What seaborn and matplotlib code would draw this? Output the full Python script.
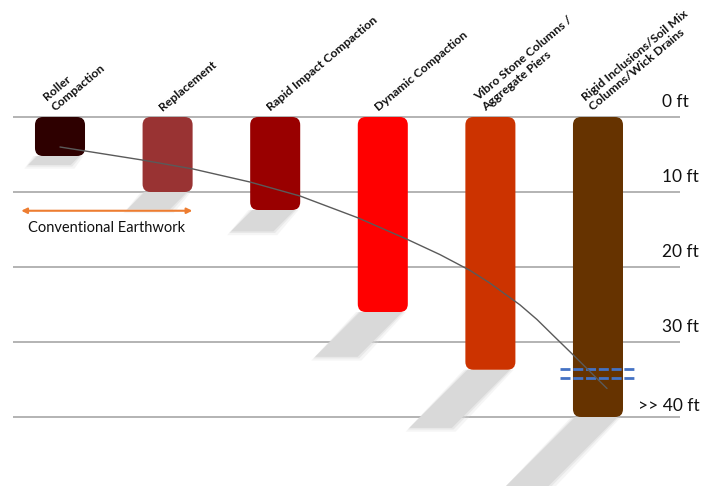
import matplotlib
matplotlib.use("Agg")
import matplotlib.pyplot as plt
import seaborn as sns
import pandas as pd
from matplotlib.patches import FancyBboxPatch, Polygon

# ---------------- data ----------------
methods = ["Roller\nCompaction", "Replacement", "Rapid Impact Compaction",
           "Dynamic Compaction", "Vibro Stone Columns /\nAggregate Piers",
           "Rigid Inclusions/Soil Mix\nColumns/Wick Drains"]
depths = [5.2, 10.0, 12.4, 26.0, 33.7, 40.0]
colors = ["#2E0000", "#993333", "#990000", "#FF0000", "#CC3300", "#663300"]

depth_ticks = [0, 10, 20, 30, 40]
depth_labels = ["0 ft", "10 ft", "20 ft", "30 ft", ">> 40 ft"]

trend_x = [0.0, 0.762, 1.236, 1.766, 2.230, 2.770, 3.225, 3.532, 3.810,
           3.996, 4.275, 4.433, 4.582, 4.768, 4.926, 5.084]
trend_y = [4.0, 5.73, 6.93, 8.67, 10.53, 13.45, 16.3, 18.35, 20.45,
           22.15, 25.05, 27.0, 29.1, 31.7, 33.95, 36.2]

earthwork_x = [-0.36, 1.23]
earthwork_y = 12.5
earthwork_label = "Conventional Earthwork"

limit_x = [4.647, 5.344]
limit_y = [33.6, 34.8]

# ---------------- figure ----------------
sns.set_theme(style="white")
plt.rcParams["font.family"] = ["Lato", "DejaVu Sans"]

W, H = 703, 486
fig = plt.figure(figsize=(W / 100, H / 100), dpi=100)
ax = fig.add_axes([0, 0, 1, 1])

xmin, xmax = -0.5576, 5.976
ymin, ymax = -15.6, 49.2
px_per_x = W / (xmax - xmin)
px_per_ft = H / (ymax - ymin)

df = pd.DataFrame({"method": methods, "depth": depths})
sns.barplot(data=df, x="method", y="depth", hue="method", order=methods,
            hue_order=methods, palette=colors, legend=False, width=0.465,
            saturation=1, ax=ax)

ax.set_xlim(xmin, xmax)
ax.set_ylim(ymax, ymin)
ax.axis("off")

# grid lines
ax.hlines(depth_ticks, -0.437, 5.762, color="#AEAEAE", lw=1.3, zorder=1)

# replace bars with rounded bars + soft shadows
r_px = 8
for p in list(ax.patches):
    x, y, w, h = p.get_x(), p.get_y(), p.get_width(), p.get_height()
    fc = p.get_facecolor()
    p.remove()
    top, bot = min(y, y + h), max(y, y + h)
    hs = 0.23 * bot
    s = hs * px_per_ft / px_per_x
    for grow, alpha in [(0.035, 0.25), (0.015, 0.45), (0.0, 1.0)]:
        gy = grow * px_per_x / px_per_ft
        shadow = Polygon([(x + 0.02 - grow, bot), (x + w - 0.05 + grow, bot),
                          (x + w - 0.05 + grow - s, bot + hs + gy),
                          (x + 0.02 - grow - s, bot + hs + gy)],
                         closed=True, fc="#D9D9D9", ec="none", alpha=alpha, zorder=2)
        ax.add_patch(shadow)
    rs = r_px / px_per_x
    asp = (r_px / px_per_ft) / rs
    bar = FancyBboxPatch((x, top), w, bot - top,
                         boxstyle=f"round,pad=0,rounding_size={rs}",
                         mutation_aspect=asp, fc=fc, ec="none", zorder=3)
    ax.add_patch(bar)

# trend curve
ax.plot(trend_x, trend_y, color="#5A5A5A", lw=1.0, zorder=5,
        solid_joinstyle="round")

# blue dashed limit lines
for yy in limit_y:
    ax.plot(limit_x, [yy, yy], color="#4472C4", lw=2.0, dashes=(3.6, 1.0),
            zorder=4, dash_capstyle="butt")

# conventional earthwork arrow
ax.annotate("", xy=(earthwork_x[0], earthwork_y), xytext=(earthwork_x[1], earthwork_y),
            arrowprops=dict(arrowstyle="<|-|>", color="#ED7D31", lw=1.5,
                            mutation_scale=8, shrinkA=0, shrinkB=0), zorder=5)
ax.text(sum(earthwork_x) / 2, earthwork_y + 2.3, earthwork_label,
        ha="center", va="center", fontsize=10.5, color="#111111")

# depth labels
for t, lab in zip(depth_ticks, depth_labels):
    if lab.startswith(">>"):
        ax.text(5.945, t - 1.5, lab, ha="right", va="center", fontsize=12.5, color="#111111")
    else:
        ax.text(5.595, t - 2.0, lab, ha="left", va="center", fontsize=12.5, color="#111111")

# category labels
for i, m in enumerate(methods):
    ax.text(i - 0.03, -0.6, m, rotation=40, rotation_mode="anchor",
            ha="left", va="bottom", fontsize=8.8, fontweight="bold",
            color="#111111", linespacing=1.2)

fig.savefig("out.png", dpi=100)
